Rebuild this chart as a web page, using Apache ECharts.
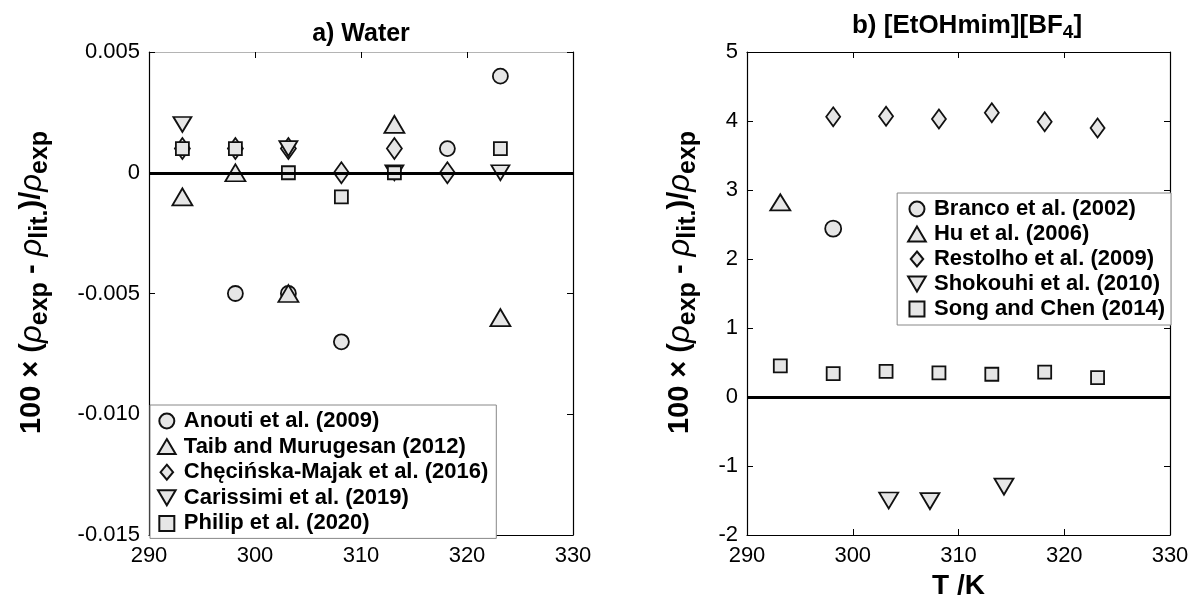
<!DOCTYPE html>
<html lang="en">
<head>
    <meta charset="utf-8">
    <title>density deviations</title>
    <script type="text/javascript" src="https://cdn.jsdelivr.net/npm/echarts@6/dist/echarts.min.js"></script>
    <style>
        body { margin: 0; background: #fff; }
        #main { width: 1193px; height: 601px; }
    </style>
</head>
<body>
<div id="main"></div>
<script>
    // a) Water
    var anoutiT = [298.15, 303.15, 308.15, 318.15, 323.15];
    var anoutiDev = [-0.005, -0.005, -0.007, 0.001, 0.004];
    var taibT = [293.15, 298.15, 303.15, 313.15, 323.15];
    var taibDev = [-0.001, 0, -0.005, 0.002, -0.006];
    var checinskaT = [293.15, 298.15, 303.15, 308.15, 313.15, 318.15];
    var checinskaDev = [0.001, 0.001, 0.001, 0, 0.001, 0];
    var carissimiT = [293.15, 303.15, 313.15, 323.15];
    var carissimiDev = [0.002, 0.001, 0, 0];
    var philipT = [293.15, 298.15, 303.15, 308.15, 313.15, 323.15];
    var philipDev = [0.001, 0.001, 0, -0.001, 0, 0.001];

    // b) [EtOHmim][BF4]
    var brancoT = [298.15];
    var brancoDev = [2.44];
    var huT = [293.15];
    var huDev = [2.82];
    var restolhoT = [298.15, 303.15, 308.15, 313.15, 318.15, 323.15];
    var restolhoDev = [4.06, 4.07, 4.03, 4.12, 3.99, 3.90];
    var shokouhiT = [303.4, 307.3, 314.3];
    var shokouhiDev = [-1.50, -1.51, -1.30];
    var songT = [293.15, 298.15, 303.15, 308.15, 313.15, 318.15, 323.15];
    var songDev = [0.45, 0.34, 0.37, 0.35, 0.33, 0.36, 0.28];

    var waterNames = ['Anouti et al. (2009)', 'Taib and Murugesan (2012)', 'Chęcińska-Majak et al. (2016)', 'Carissimi et al. (2019)', 'Philip et al. (2020)'];
    var ilNames = ['Branco et al. (2002)', 'Hu et al. (2006)', 'Restolho et al. (2009)', 'Shokouhi et al. (2010)', 'Song and Chen (2014)'];

    var FONT = "'Liberation Sans', Arial, sans-serif";
    var FILL = '#e6e6e6';
    var TRI_UP = 'path://M5,0 L10,8.5 L0,8.5 Z';
    var TRI_DOWN = 'path://M0,0 L10,0 L5,8.5 Z';
    var DIAMOND = 'path://M5,0 L10,7 L5,14 L0,7 Z';
    var DIAMOND_ICON = 'path://M5,0 L10,6 L5,12 L0,6 Z';
    var SQUARE = 'path://M0,0 L10,0 L10,10 L0,10 Z';
    var ICONS = ['circle', TRI_UP, DIAMOND_ICON, TRI_DOWN, SQUARE];

    function pts(xs, ys) {
        var out = [];
        for (var i = 0; i < xs.length; i++) out.push([xs[i], ys[i]]);
        return out;
    }

    function scat(name, xs, ys, symbol, size, g) {
        return {
            name: name,
            type: 'scatter',
            xAxisIndex: g * 2,
            yAxisIndex: g * 2,
            symbol: symbol,
            symbolSize: size,
            data: pts(xs, ys),
            itemStyle: {color: FILL, borderColor: '#111', borderWidth: 1.8, opacity: 1},
            z: 2
        };
    }

    function legendData(names) {
        return names.map(function (n, i) { return {name: n, icon: ICONS[i]}; });
    }

    var yName = '{n|100 × (}{r|ρ}{s|exp}{n| - }{r|ρ}{s|lit.}{n|)/}{r|ρ}{s|exp}';
    var yRich = {
        n: {fontSize: 29, fontWeight: 'bold', fontFamily: FONT, lineHeight: 38, color: '#000'},
        r: {fontSize: 31, fontStyle: 'italic', fontFamily: FONT, lineHeight: 38, color: '#000'},
        s: {fontSize: 25, fontWeight: 'bold', fontFamily: FONT, lineHeight: 24, padding: [17, 0, 0, 0], color: '#000'}
    };

    function xMain(g, showName) {
        return {
            type: 'value', gridIndex: g, min: 290, max: 330, interval: 10,
            axisLine: {show: true, onZero: false, lineStyle: {color: '#000', width: 1.2}},
            axisTick: {inside: true, length: 6, lineStyle: {color: '#000'}},
            axisLabel: {fontSize: 22, color: '#000', fontFamily: FONT, margin: 10},
            splitLine: {show: false},
            name: showName ? 'T /K' : '',
            nameLocation: 'middle', nameGap: 34,
            nameTextStyle: {fontSize: 28, fontWeight: 'bold', color: '#000', fontFamily: FONT}
        };
    }
    function xMirror(g, col) {
        return {
            type: 'value', gridIndex: g, position: 'top', min: 290, max: 330, interval: 10,
            axisLine: {show: true, onZero: false, lineStyle: {color: col, width: 1.2}},
            axisTick: {inside: true, length: 6, lineStyle: {color: '#000'}},
            axisLabel: {show: false}, splitLine: {show: false}
        };
    }
    function yMain(g, min, max, step, gap, fmt) {
        return {
            type: 'value', gridIndex: g, min: min, max: max, interval: step,
            axisLine: {show: true, onZero: false, lineStyle: {color: '#000', width: 1.2}},
            axisTick: {inside: true, length: 6, lineStyle: {color: '#000'}},
            axisLabel: {fontSize: 22, color: '#000', fontFamily: FONT, margin: 9, formatter: fmt},
            splitLine: {show: false},
            name: yName, nameLocation: 'middle', nameGap: gap, nameRotate: 90,
            nameTextStyle: {rich: yRich, padding: [0, 0, 0, 22]}
        };
    }
    function yMirror(g, min, max, step) {
        return {
            type: 'value', gridIndex: g, position: 'right', min: min, max: max, interval: step,
            axisLine: {show: true, onZero: false, lineStyle: {color: '#000', width: 1.2}},
            axisTick: {inside: true, length: 6, lineStyle: {color: '#000'}},
            axisLabel: {show: false}, splitLine: {show: false}
        };
    }

    function zeroLine(g) {
        return {
            type: 'line', xAxisIndex: g * 2, yAxisIndex: g * 2, data: [], z: 3,
            markLine: {
                silent: true, symbol: 'none', label: {show: false},
                lineStyle: {color: '#000', width: 3, type: 'solid'},
                data: [{yAxis: 0}]
            }
        };
    }

    var legendText = {fontSize: 22, fontWeight: 'bold', color: '#000', fontFamily: FONT, lineHeight: 22};

    var myChart = echarts.init(document.getElementById('main'));
    var option = {
        backgroundColor: '#fff',
        animation: false,
        grid: [
            {left: 149, top: 52, width: 424, height: 483, outerBoundsMode: 'none'},
            {left: 747, top: 52, width: 423, height: 483, outerBoundsMode: 'none'}
        ],
        xAxis: [xMain(0, false), xMirror(0, '#b4b4b4'), xMain(1, true), xMirror(1, '#000')],
        yAxis: [
            yMain(0, -0.015, 0.005, 0.005, 98, function (v) {
                return Math.abs(v) < 1e-10 ? '0' : v.toFixed(3);
            }),
            yMirror(0, -0.015, 0.005, 0.005),
            yMain(1, -2, 5, 1, 48, function (v) { return String(Math.round(v)); }),
            yMirror(1, -2, 5, 1)
        ],
        legend: [
            {
                data: legendData(waterNames), orient: 'vertical', left: 150, top: 405,
                padding: [5, 8, 4, 7], itemGap: 3.6, itemWidth: 24, itemHeight: 15,
                backgroundColor: '#fff', borderColor: '#888', borderWidth: 1,
                textStyle: legendText, z: 6
            },
            {
                data: legendData(ilNames), orient: 'vertical', right: 22, top: 193,
                padding: [5, 6, 5, 10], itemGap: 3, itemWidth: 24, itemHeight: 15,
                backgroundColor: '#fff', borderColor: '#888', borderWidth: 1,
                textStyle: legendText, z: 6
            }
        ],
        graphic: [
            {
                type: 'text', x: 361, y: 34, z: 10,
                style: {
                    text: 'a) Water', align: 'center', verticalAlign: 'middle',
                    font: 'bold 25px ' + FONT, fill: '#000'
                }
            },
            {
                type: 'text', x: 967, y: 26, z: 10,
                style: {
                    text: '{n|b) [EtOHmim][BF}{s|4}{n|]}', align: 'center', verticalAlign: 'middle',
                    rich: {
                        n: {fontSize: 26, fontWeight: 'bold', fontFamily: FONT, lineHeight: 30, fill: '#000'},
                        s: {fontSize: 19, fontWeight: 'bold', fontFamily: FONT, lineHeight: 18, padding: [14, 0, 0, 0], fill: '#000'}
                    }
                }
            }
        ],
        series: [
            scat(waterNames[0], anoutiT, anoutiDev, 'circle', 15, 0),
            scat(waterNames[1], taibT, taibDev, TRI_UP, [20, 17], 0),
            scat(waterNames[2], checinskaT, checinskaDev, DIAMOND, [15, 21], 0),
            scat(waterNames[3], carissimiT, carissimiDev, TRI_DOWN, [18, 15], 0),
            scat(waterNames[4], philipT, philipDev, 'rect', 13, 0),
            zeroLine(0),
            scat(ilNames[0], brancoT, brancoDev, 'circle', 16, 1),
            scat(ilNames[1], huT, huDev, TRI_UP, [20, 16], 1),
            scat(ilNames[2], restolhoT, restolhoDev, DIAMOND, [14, 19], 1),
            scat(ilNames[3], shokouhiT, shokouhiDev, TRI_DOWN, [19, 16], 1),
            scat(ilNames[4], songT, songDev, 'rect', 13, 1),
            zeroLine(1)
        ]
    };
    myChart.setOption(option);
</script>
</body>
</html>
